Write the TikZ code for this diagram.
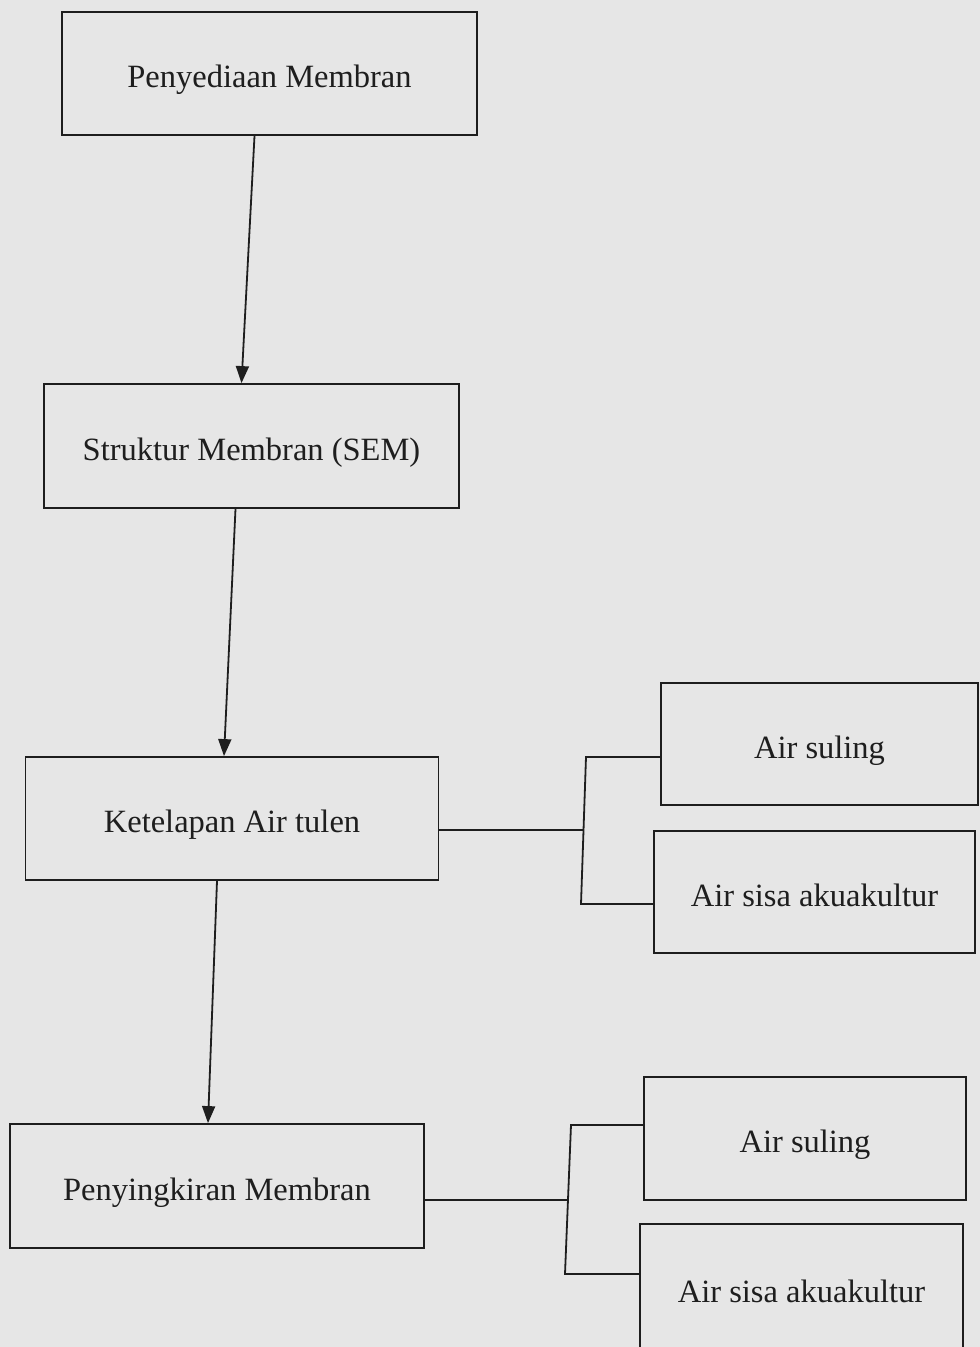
\documentclass[tikz,border=0pt]{standalone}
\usepackage{fontspec}
\setmainfont{Liberation Serif}
\usetikzlibrary{arrows.meta}
\definecolor{bgc}{RGB}{230,230,230}
\definecolor{inkc}{RGB}{30,30,30}
\begin{document}
\begin{tikzpicture}[x=1pt,y=-1pt,
  boxnode/.style={draw=inkc,line width=1.8pt,fill=bgc,inner sep=0pt,
    text height=28pt,text depth=0pt,
    font=\fontsize{32.5}{38}\selectfont,text=inkc},
  arr/.style={draw=inkc,line width=1.8pt,-{Triangle[width=13pt,length=17pt]}},
  conn/.style={draw=inkc,line width=1.8pt}]
\useasboundingbox (0,0) rectangle (980,1347);
\fill[bgc] (0,0) rectangle (980,1347);
\clip (0,0) rectangle (980,1347);
\node[boxnode,minimum width=415pt,minimum height=123pt] (b1) at (269.5,73.5) {Penyediaan Membran};
\node[boxnode,minimum width=415pt,minimum height=124pt] (b2) at (251.5,446) {Struktur Membran (SEM)};
\node[boxnode,minimum width=413pt,minimum height=123pt] (b3) at (232,818.5) {Ketelapan Air tulen};
\node[boxnode,minimum width=414pt,minimum height=124pt] (b4) at (217,1186) {Penyingkiran Membran};
\node[boxnode,minimum width=317pt,minimum height=122pt] (b5) at (819.5,744) {Air suling};
\node[boxnode,minimum width=321pt,minimum height=122pt] (b6) at (814.5,892) {Air sisa akuakultur};
\node[boxnode,minimum width=322pt,minimum height=123pt] (b7) at (805,1138.5) {Air suling};
\node[boxnode,minimum width=323pt,minimum height=128pt] (b8) at (801.5,1288) {Air sisa akuakultur};
% arrows
\draw[arr] ([xshift=-15pt]b1.south) -- ([xshift=-10pt]b2.north);
\draw[arr] ([xshift=-16pt]b2.south) -- ([xshift=-8pt]b3.north);
\draw[arr] ([xshift=-15pt]b3.south) -- ([xshift=-9pt]b4.north);
% brackets
\coordinate (s1) at (586,757);
\coordinate (s2) at (581,904);
\coordinate (m1) at (583,830);
\draw[conn] (b3.east |- m1) -- (m1);
\draw[conn] (b5.west |- s1) -- (s1) -- (s2) -- (b6.west |- s2);
\coordinate (s3) at (571,1125);
\coordinate (s4) at (565,1274);
\coordinate (m2) at (568,1200);
\draw[conn] (b4.east |- m2) -- (m2);
\draw[conn] (b7.west |- s3) -- (s3) -- (s4) -- (b8.west |- s4);
\end{tikzpicture}
\end{document}
